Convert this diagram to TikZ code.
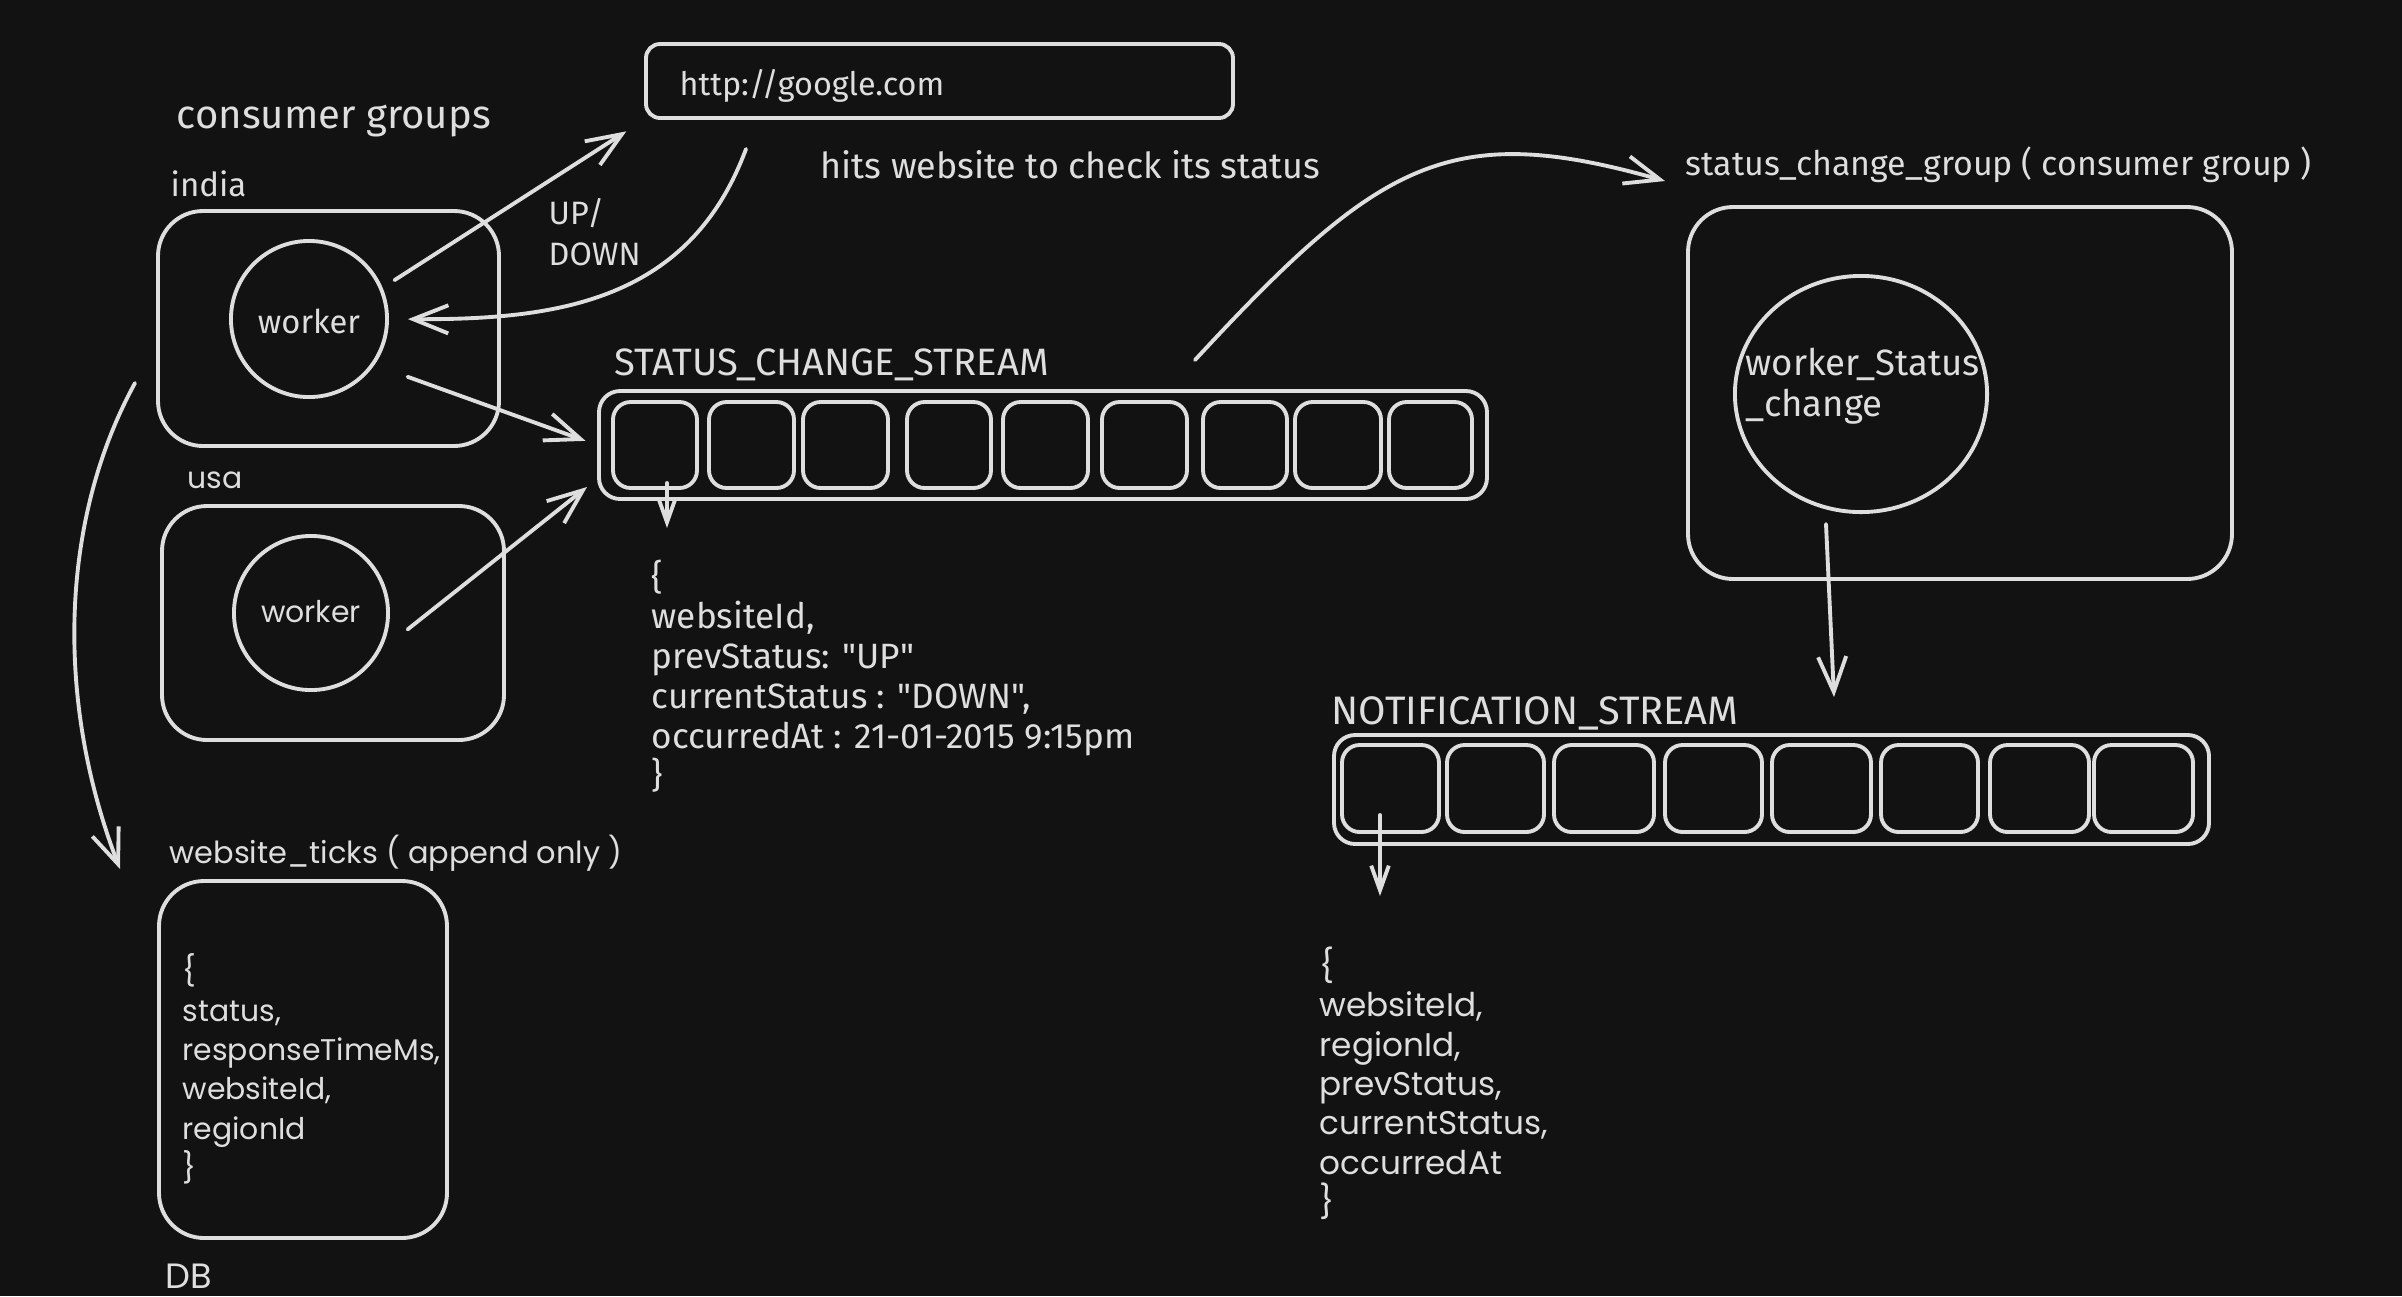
\documentclass[tikz,border=0pt]{standalone}
\usepackage{fontspec}
\setmainfont{Fira Sans}
\newfontfamily\handfont{Fira Sans}
\newfontfamily\comicfont{Poppins}
\usetikzlibrary{arrows.meta,fit,shapes.geometric}
\definecolor{bgc}{HTML}{121212}
\definecolor{ink}{HTML}{DEDEDE}
\begin{document}
\begin{tikzpicture}[x=0.01cm,y=-0.01cm,
  ln/.style={draw=ink,line width=1.1pt},
  box/.style={ln,rounded corners=12.8pt,inner sep=0pt},
  gbox/.style={ln,rounded corners=4pt,inner sep=0pt},
  sbox/.style={ln,rounded corners=6pt,inner sep=0pt},
  cellbox/.style={ln,rounded corners=5pt,inner sep=0pt},
  wcirc/.style={ln,circle,inner sep=0pt},
  arr/.style={ln,line cap=round,-{Straight Barb[length=10pt,width=8pt]}},
  sarr/.style={ln,line cap=round,-{Straight Barb[length=7pt,width=5pt]}},
  hand/.style={text=ink,inner sep=0pt,anchor=west,font={\handfont\fontsize{#1}{#1}\selectfont}},
  comic/.style={text=ink,inner sep=0pt,anchor=west,font={\comicfont\fontsize{#1}{#1}\selectfont}},
]
\useasboundingbox (0,0) rectangle (2402,1296);
\fill[bgc] (0,0) rectangle (2402,1296);

% ---- consumer groups (left)
\node[hand=11.4] (cg) at (176,121) {consumer groups};
\node[hand=9.4] (indl) at (170,184) {india};
\node[box,fit={(158,211)(499,446)}] (india) {};
\node[wcirc,minimum size=1.56cm] (wi) at (309,319) {};
\node[hand=9.3,anchor=center] (wit) at (309,321) {worker};

\node[comic=8.5] (usal) at (187,480) {usa};
\node[box,fit={(162,506)(504,740)}] (usa) {};
\node[wcirc,minimum size=1.54cm] (wu) at (311,613) {};
\node[comic=8.5,anchor=center] (wut) at (311,612) {worker};

% ---- google
\node[gbox,fit={(646,44)(1233,118)}] (google) {};
\node[hand=9.2] (gt) at (679,86) {http://google.com};
\node[hand=10.2] (hits) at (820,165) {hits website to check its status};
\node[hand=9.2,anchor=north west,align=left,font={\handfont\fontsize{9.2}{11.6}\selectfont}] (updown) at (548,198) {UP/\\DOWN};

% ---- status change stream
\node[hand=10.85] (scsl) at (614,365) {STATUS\_CHANGE\_STREAM};
\node[sbox,fit={(599,391)(1487,499)}] (scs) {};
\foreach \a/\b [count=\i] in {613/697,709/794,803/888,907/991,1003/1088,1102/1187,1203/1287,1295/1381,1389/1472}
  \node[cellbox,fit={(\a,402)(\b,488)}] (s\i) {};
\node[hand=10,anchor=north west,align=left,font={\handfont\fontsize{10}{11.3}\selectfont}] (json1) at (651,559)
  {\{\\websiteId,\\prevStatus: "UP"\\currentStatus : "DOWN",\\occurredAt : 21-01-2015 9:15pm\\\}};

% ---- status change group
\node[hand=9.65] (scgl) at (1685,165) {status\_change\_group ( consumer group )};
\node[box,fit={(1688,207)(2232,579)}] (scg) {};
\node[ln,ellipse,minimum width=2.52cm,minimum height=2.36cm,inner sep=0pt] (wsc) at (1861,394) {};
\node[hand=10.4,anchor=north west,align=left,font={\handfont\fontsize{10.4}{11.7}\selectfont}] (wsct) at (1745,347) {worker\_Status\\\_change};

% ---- notification stream
\node[hand=11.3] (nsl) at (1331,713) {NOTIFICATION\_STREAM};
\node[sbox,fit={(1334,735)(2209,844)}] (ns) {};
\foreach \a/\b [count=\i] in {1342/1439,1447/1544,1554/1654,1665/1762,1772/1871,1881/1978,1990/2089,2094/2193}
  \node[cellbox,fit={(\a,745)(\b,832)}] (n\i) {};
\node[comic=9.3,anchor=north west,align=left,font={\comicfont\fontsize{9.3}{11.2}\selectfont}] (json2) at (1319,946)
  {\{\\websiteId,\\regionId,\\prevStatus,\\currentStatus,\\occurredAt\\\}};

% ---- DB
\node[comic=8.65] (wtl) at (169,853) {website\_ticks ( append only )};
\node[box,fit={(159,881)(447,1238)}] (db) {};
\node[comic=8.5,anchor=north west,align=left,font={\comicfont\fontsize{8.5}{11.2}\selectfont}] (json3) at (182,953)
  {\{\\status,\\responseTimeMs,\\websiteId,\\regionId\\\}};
\node[comic=10] (dbl) at (165,1276) {DB};

% ---- connector end points
\coordinate (gq) at (746,149);
\coordinate (usE) at (587,487);
\coordinate (lcS) at (135,383);
\coordinate (lcE) at (120,869);
\coordinate (scS) at (1195,360);
\coordinate (scE) at (1665,181);
\coordinate (wsS) at (1826,524);
\coordinate (wsE) at (1834,697);
\coordinate (s1S) at (667,483);
\coordinate (s1E) at (667,528);
\coordinate (n1S) at (1380,815);
\coordinate (n1E) at (1380,896);

% ---- connectors
\draw[arr,shorten <=4pt,shorten >=6pt] (wi.23) -- (google.south west);
\draw[arr,shorten >=5.4pt] (gq) .. controls (690,300) and (560,320) .. (wi.east);
\draw[arr,shorten <=10pt,shorten >=3.5pt] (wi.-35) -- (scs.west);
\draw[arr,shorten <=10pt] (wu.-29) -- (usE);
\draw[arr] (lcS) .. controls (60,520) and (55,700) .. (lcE);
\draw[arr] (scS) .. controls (1380,160) and (1450,120) .. (scE);
\draw[arr] (wsS) -- (wsE);
\draw[sarr] (s1S) -- (s1E);
\draw[sarr] (n1S) -- (n1E);
\end{tikzpicture}
\end{document}
